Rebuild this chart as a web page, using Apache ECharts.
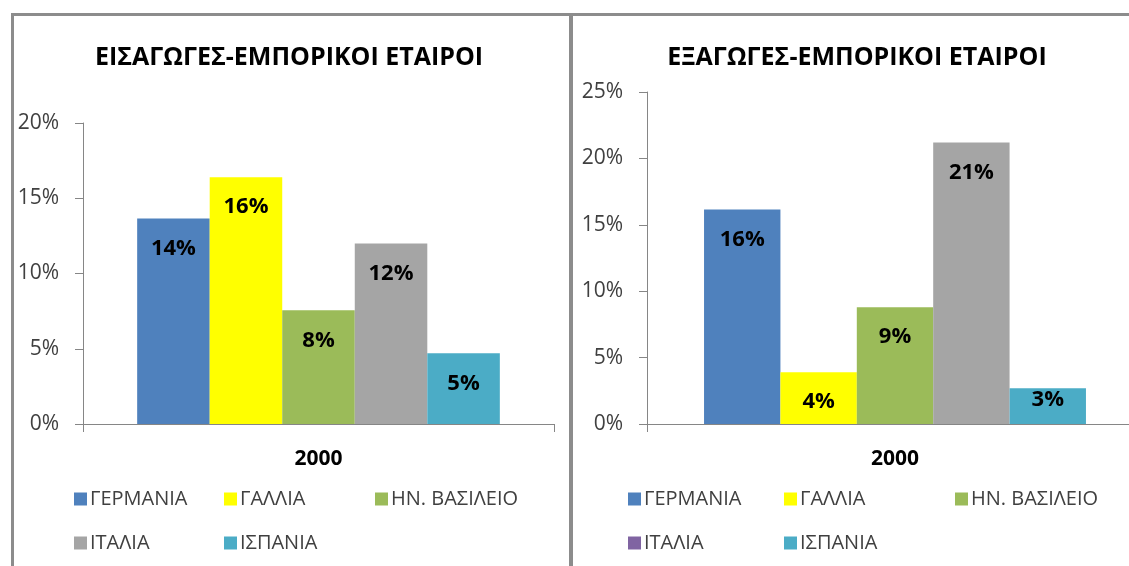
<!DOCTYPE html>
<html>
<head>
<meta charset="utf-8">
<script src="https://cdn.jsdelivr.net/npm/echarts@6/dist/echarts.min.js"></script>
<style>
  html, body { margin: 0; padding: 0; background: #fff; }
  #main { width: 1129px; height: 566px; }
</style>
</head>
<body>
<div id="main"></div>
<script>
// data
const countries = ['ΓΕΡΜΑΝΙΑ', 'ΓΑΛΛΙΑ', 'ΗΝ. ΒΑΣΙΛΕΙΟ', 'ΙΤΑΛΙΑ', 'ΙΣΠΑΝΙΑ'];
const years = ['2000'];
const importsValues = [13.65, 16.4, 7.55, 12.0, 4.7];
const exportsValues = [16.15, 3.9, 8.8, 21.2, 2.7];
const importsTitle = 'ΕΙΣΑΓΩΓΕΣ-ΕΜΠΟΡΙΚΟΙ ΕΤΑΙΡΟΙ';
const exportsTitle = 'ΕΞΑΓΩΓΕΣ-ΕΜΠΟΡΙΚΟΙ ΕΤΑΙΡΟΙ';

const colors = ['#4F81BD', '#FFFF00', '#9BBB59', '#A5A5A5', '#4BACC6'];
// το υπόμνημα των εξαγωγών δείχνει μωβ για την Ιταλία
const exportsLegendColors = ['#4F81BD', '#FFFF00', '#9BBB59', '#8064A2', '#4BACC6'];

const font = '"Open Sans", "Noto Sans", sans-serif';

const chart = echarts.init(document.getElementById('main'));

// θέσεις υπομνήματος (πάνω αριστερή γωνία εικονιδίου)
const importsLegendPos = [[74, 489], [224, 489], [375, 489], [74, 533], [224, 533]];
const exportsLegendPos = [[628, 489], [784, 489], [955, 489], [628, 533], [784, 533]];

function makeSeries(values, idx) {
  return countries.map((name, i) => ({
    name: name,
    type: 'bar',
    xAxisIndex: idx,
    yAxisIndex: idx,
    barGap: '0%',
    barCategoryGap: '23%',
    itemStyle: { color: colors[i] },
    data: [{
      value: values[i],
      label: values[i] < 3.5
        ? { position: 'insideBottom', distance: 13 }
        : { position: 'insideTop', distance: 19 }
    }],
    label: {
      show: true,
      color: '#000',
      fontFamily: font,
      fontWeight: 'bold',
      fontSize: 22,
      formatter: p => Math.round(p.value) + '%'
    }
  }));
}

function makeLegends(pos, legendColors) {
  return countries.map((name, i) => ({
    left: pos[i][0],
    top: pos[i][1],
    padding: 0,
    icon: 'rect',
    itemWidth: 13,
    itemHeight: 13,
    selectedMode: false,
    textStyle: { fontFamily: font, fontSize: 20, color: '#404040', padding: [0, 0, 0, -2] },
    data: [{ name: name, itemStyle: { color: legendColors[i] } }]
  }));
}

function makeYAxis(idx, max) {
  return {
    gridIndex: idx,
    type: 'value',
    min: 0,
    max: max,
    interval: 5,
    axisLine: { show: true, lineStyle: { color: '#868686' } },
    axisTick: { show: true, length: 8, lineStyle: { color: '#868686' } },
    splitLine: { show: false },
    axisLabel: {
      margin: 24,
      formatter: '{value}%',
      fontFamily: font,
      fontSize: 21,
      color: '#404040'
    }
  };
}

function makeXAxis(idx) {
  return {
    gridIndex: idx,
    type: 'category',
    data: years,
    axisLine: { show: true, lineStyle: { color: '#868686' } },
    axisTick: { show: true, length: 8, lineStyle: { color: '#868686' } },
    axisLabel: {
      margin: 25,
      fontFamily: font,
      fontSize: 21,
      fontWeight: 'bold',
      color: '#000'
    }
  };
}

chart.setOption({
  animation: false,
  title: [
    {
      text: importsTitle, left: 289, top: 45, padding: 0, textAlign: 'center',
      textStyle: { fontFamily: font, fontSize: 25, fontWeight: 'bold', color: '#000' }
    },
    {
      text: exportsTitle, left: 857, top: 45, padding: 0, textAlign: 'center',
      textStyle: { fontFamily: font, fontSize: 25, fontWeight: 'bold', color: '#000' }
    }
  ],
  legend: makeLegends(importsLegendPos, colors).concat(makeLegends(exportsLegendPos, exportsLegendColors)),
  grid: [
    { left: 83, top: 123, width: 471, height: 301, outerBoundsMode: 'none' },
    { left: 647, top: 92, width: 496, height: 332, outerBoundsMode: 'none' }
  ],
  xAxis: [makeXAxis(0), makeXAxis(1)],
  yAxis: [makeYAxis(0, 20), makeYAxis(1, 25)],
  series: makeSeries(importsValues, 0).concat(makeSeries(exportsValues, 1)),
  graphic: [
    // πλαίσια των δύο γραφημάτων
    { type: 'line', shape: { x1: 11, y1: 14.5, x2: 1129, y2: 14.5 }, style: { stroke: '#8c8c8c', lineWidth: 3 } },
    { type: 'line', shape: { x1: 12.5, y1: 13, x2: 12.5, y2: 566 }, style: { stroke: '#8c8c8c', lineWidth: 3 } },
    { type: 'line', shape: { x1: 571, y1: 13, x2: 571, y2: 566 }, style: { stroke: '#8c8c8c', lineWidth: 4 } }
  ]
});
</script>
</body>
</html>
